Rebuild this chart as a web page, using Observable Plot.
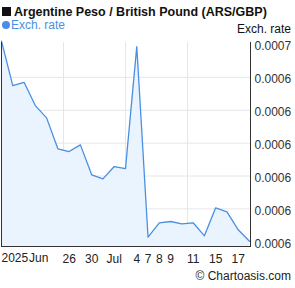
<!DOCTYPE html>
<html><head><meta charset="utf-8">
<script src="https://cdn.jsdelivr.net/npm/d3@7"></script>
<script src="https://cdn.jsdelivr.net/npm/@observablehq/plot@0.6"></script>
<style>
body{margin:0;background:#fff;font-family:"Liberation Sans",Arial,sans-serif;}
#wrap{position:relative;width:295px;height:288px;overflow:hidden;}
#wrap svg{position:absolute;left:0;top:0;}
.t{position:absolute;white-space:nowrap;line-height:14px;font-size:12px;}
#title{left:14px;top:5px;font-weight:bold;color:#111;font-size:12.5px;}
#sq{position:absolute;left:2px;top:7px;width:9px;height:9px;background:#111;}
#dot{position:absolute;left:2px;top:21px;width:8px;height:8px;border-radius:50%;background:#4a90e2;}
#leg{left:11px;top:18px;color:#4a90e2;}
#ytitle{right:4px;top:22px;color:#111;}
#credit{right:4px;top:269px;color:#222;}
</style></head><body>
<div id="wrap"></div>
<script>
// Data (index = trading-day position)
const rates = [0.00065103,0.00063751,0.00063851,0.00063143,0.00062769,0.00061827,0.00061745,0.00061948,
  0.00061036,0.00060915,0.00061289,0.00061228,0.00064936,0.00059140,0.00059578,0.00059617,
  0.00059547,0.00059578,0.00059182,0.00060033,0.00059912,0.00059365,0.00059018];
const xTickIndex = [6,8,10,12,13,14,15,17,19,21];
const xTickLabels = ["26","30","Jul","4","7","8","9","11","15","17"];
const xStartIndex = [0,2];
const xStartLabels = ["2025","Jun"];
const yTicks = [0.00059,0.00060,0.00061,0.00062,0.00063,0.00064,0.00065];
const yTickLabels = ["0.0006","0.0006","0.0006","0.0006","0.0006","0.0006","0.0007"];
const titleText = "Argentine Peso / British Pound (ARS/GBP)";
const seriesName = "Exch. rate";
const credit = "© Chartoasis.com";

const data = rates.map((v,i)=>({i, v}));
const yDomain = [0.00058857, 0.00065061];
const n = rates.length;
const vGrid = d3.range(1,4).map(k => k*(n-1)/4);
const startLabels = xStartIndex.map((i,k)=>({i, t:xStartLabels[k]}));

const chart = Plot.plot({
  width: 295, height: 288,
  marginLeft: 1, marginRight: 45, marginTop: 42, marginBottom: 42,
  insetRight: 1,
  style: {fontFamily: "Liberation Sans, Arial, sans-serif", fontSize: "12px", color: "#222", background: "transparent"},
  x: {domain: [0, n-1], axis: null},
  y: {domain: yDomain, axis: null},
  marks: [
    Plot.gridX({ticks: vGrid, stroke: "#e6e6e6", strokeOpacity: 1}),
    Plot.gridY({ticks: yTicks.slice(1,-1), stroke: "#e6e6e6", strokeOpacity: 1}),
    Plot.areaY(data, {x: "i", y1: yDomain[0], y2: "v", fill: "#eaf4fe"}),
    Plot.lineY(data, {x: "i", y: "v", stroke: "#4a8fe3", strokeWidth: 1.3}),
    Plot.frame({anchor: "left", stroke: "#333"}),
    Plot.frame({anchor: "bottom", stroke: "#333"}),
    Plot.frame({anchor: "right", stroke: "#333"}),
    Plot.axisY({anchor: "right", ticks: yTicks, tickFormat: (d,i)=>yTickLabels[i], tickSize: 0, tickPadding: 4, dy: 2, label: null, fill: "#333"}),
    Plot.axisX({anchor: "bottom", ticks: xTickIndex, tickFormat: (d,i)=>xTickLabels[i], tickSize: 0, tickPadding: 8, label: null, fill: "#222"}),
    Plot.text(startLabels.slice(0,1), {x: "i", text: "t", frameAnchor: "bottom", lineAnchor: "middle", textAnchor: "start", dy: 12, fill: "#222"}),
    Plot.text(startLabels.slice(1), {x: "i", text: "t", frameAnchor: "bottom", lineAnchor: "middle", textAnchor: "start", dy: 12, dx: 5, fill: "#222"})
  ]
});
document.getElementById("wrap").appendChild(chart);
const wrap = document.getElementById("wrap");
wrap.insertAdjacentHTML("beforeend",
  `<div id="sq"></div><div class="t" id="title">${titleText}</div>` +
  `<div id="dot"></div><div class="t" id="leg">${seriesName}</div>` +
  `<div class="t" id="ytitle">${seriesName}</div>` +
  `<div class="t" id="credit">${credit}</div>`);
</script>
</body></html>
